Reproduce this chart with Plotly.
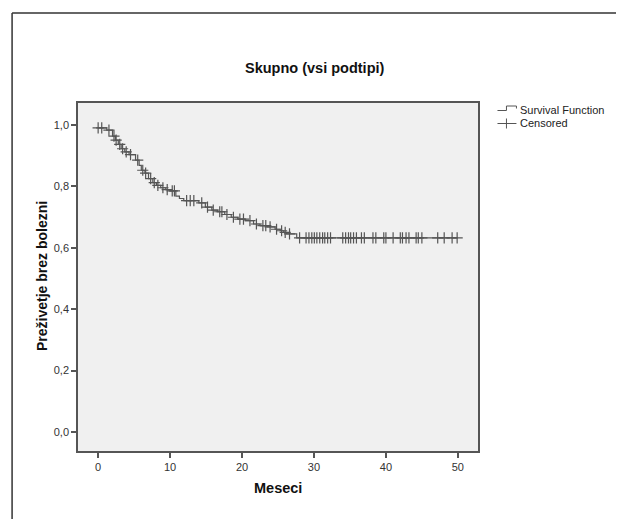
import numpy as np
import plotly.graph_objects as go

# ---- data ----
event_times = [0.0, 1.2, 2.0, 2.4, 2.8, 3.2, 3.7, 4.3, 5.2, 5.7, 6.0, 6.5, 7.0, 7.6, 8.1, 8.7,
               9.4, 10.0, 10.8, 11.3, 11.9, 14.0, 14.9, 15.8, 16.6, 17.6, 18.5, 19.4, 20.5,
               21.6, 22.5, 23.5, 24.6, 25.3, 25.8, 26.2, 27.6]
surv_after = [0.990, 0.983, 0.963, 0.950, 0.936, 0.922, 0.912, 0.903, 0.885, 0.868, 0.852,
              0.843, 0.825, 0.812, 0.803, 0.795, 0.789, 0.785, 0.768, 0.760, 0.753, 0.746,
              0.732, 0.722, 0.717, 0.708, 0.699, 0.693, 0.688, 0.677, 0.672, 0.668, 0.660,
              0.655, 0.650, 0.645, 0.632]
last_time = 49.9
censored_times = [0.0, 0.5, 1.5, 2.2, 2.5, 3.0, 3.4, 3.9, 4.5, 5.5, 6.2, 6.6, 7.3, 7.8, 8.3,
                  9.0, 9.6, 10.3, 10.6, 12.3, 12.8, 13.3, 14.4, 15.2, 16.0, 16.9, 17.2, 17.9,
                  18.8, 19.7, 20.2, 21.1, 22.0, 22.9, 23.3, 23.9, 24.8, 25.5, 26.0, 26.6,
                  28.0, 28.9, 29.3, 29.7, 30.05, 30.4, 30.8, 31.2, 31.5, 31.9, 32.3, 34.0,
                  34.4, 34.8, 35.1, 35.5, 35.9, 36.6, 37.0, 38.2, 38.6, 39.7, 40.0, 41.0,
                  42.0, 42.3, 42.8, 43.2, 44.2, 44.5, 45.0, 47.2, 48.1, 49.2, 49.9]
x_ticks = [0, 10, 20, 30, 40, 50]
y_ticks = [0.0, 0.2, 0.4, 0.6, 0.8, 1.0]

title_text = "Skupno (vsi podtipi)"
x_title = "Meseci"
y_title = "Preživetje brez bolezni"
legend_labels = ["Survival Function", "Censored"]

# ---- derived step curve ----
step_x = [0.0] + event_times + [last_time]
step_y = [surv_after[0]] + surv_after + [surv_after[-1]]
et = np.array(event_times)
sv = np.array(surv_after)
cens_y = [float(sv[max(np.searchsorted(et, t, side="right") - 1, 0)]) for t in censored_times]

# page has an 8px body margin; work in page pixels and convert
OFF = 8
W, H = 624 - OFF, 519 - OFF
PL, PR, PT, PB = 78, 478.5, 103, 451  # plot box in page pixels
L, T = PL - OFF, PT - OFF
R = W - (PR - OFF)
B = H - (PB - OFF)
PW, PH = PR - PL, PB - PT


def px(xp):
    return (xp - PL) / PW


def py(yp):
    return (PB - yp) / PH


LINE = "#555555"
FONT = "Liberation Sans, Arial, sans-serif"

fig = go.Figure()
fig.add_trace(go.Scatter(x=step_x, y=step_y, mode="lines", line=dict(shape="hv", color=LINE, width=1.2),
                         showlegend=False, hoverinfo="skip"))
fig.add_trace(go.Scatter(x=censored_times, y=cens_y, mode="markers",
                         marker=dict(symbol="cross-thin-open", size=8, color=LINE,
                                     line=dict(color=LINE, width=1.2)),
                         showlegend=False, hoverinfo="skip"))

shapes = []
# outer frame (left and top)
shapes.append(dict(type="line", xref="paper", yref="paper", x0=px(12), x1=px(12), y0=py(13), y1=py(560),
                   line=dict(color="#333333", width=1.5)))
shapes.append(dict(type="line", xref="paper", yref="paper", x0=px(12), x1=px(660), y0=py(13), y1=py(13),
                   line=dict(color="#333333", width=1.5)))
# legend glyphs
gy1 = 110.5
shapes.append(dict(type="path", xref="paper", yref="paper",
                   path=f"M {px(498)},{py(gy1)} L {px(507)},{py(gy1)} L {px(507)},{py(gy1-4.5)} L {px(517)},{py(gy1-4.5)} L {px(517)},{py(gy1-2)}",
                   line=dict(color=LINE, width=1)))
gy2 = 123.5
shapes.append(dict(type="line", xref="paper", yref="paper", x0=px(498), x1=px(517), y0=py(gy2), y1=py(gy2),
                   line=dict(color=LINE, width=1)))
shapes.append(dict(type="line", xref="paper", yref="paper", x0=px(507), x1=px(507), y0=py(gy2 - 5), y1=py(gy2 + 5),
                   line=dict(color=LINE, width=1)))

annotations = [
    dict(text=f"<b>{title_text}</b>", x=px(315), y=py(68), xref="paper", yref="paper", showarrow=False,
         font=dict(size=14.5, color="#111111", family=FONT), xanchor="center", yanchor="middle"),
    dict(text=f"<b>{x_title}</b>", x=px(278), y=py(488), xref="paper", yref="paper", showarrow=False,
         font=dict(size=14.5, color="#111111", family=FONT), xanchor="center", yanchor="middle"),
    dict(text=f"<b>{y_title}</b>", x=px(42), y=py(276), xref="paper", yref="paper", showarrow=False, textangle=-90,
         font=dict(size=14, color="#111111", family=FONT), xanchor="center", yanchor="middle"),
    dict(text=legend_labels[0], x=px(519), y=py(109.5), xref="paper", yref="paper", showarrow=False,
         font=dict(size=11, color="#222222", family=FONT), xanchor="left", yanchor="middle"),
    dict(text=legend_labels[1], x=px(519), y=py(123), xref="paper", yref="paper", showarrow=False,
         font=dict(size=11, color="#222222", family=FONT), xanchor="left", yanchor="middle"),
]

axis_common = dict(showline=True, mirror=True, linecolor=LINE, linewidth=1.5, ticks="outside", ticklen=5,
                   tickwidth=1.5, tickcolor=LINE, showgrid=False, zeroline=False,
                   tickfont=dict(size=11, color="#333333", family=FONT))

fig.update_layout(
    width=W, height=H, margin=dict(l=L, r=R, t=T, b=B),
    paper_bgcolor="white", plot_bgcolor="#f0f0f0",
    separators=", ",
    xaxis=dict(range=[-2.8, 52.8], tickvals=x_ticks, **axis_common),
    yaxis=dict(range=[-0.062, 1.071], tickvals=y_ticks, tickformat=".1f", **axis_common),
    shapes=shapes, annotations=annotations, showlegend=False,
)

fig.write_html("out.html", config={"displayModeBar": False})
